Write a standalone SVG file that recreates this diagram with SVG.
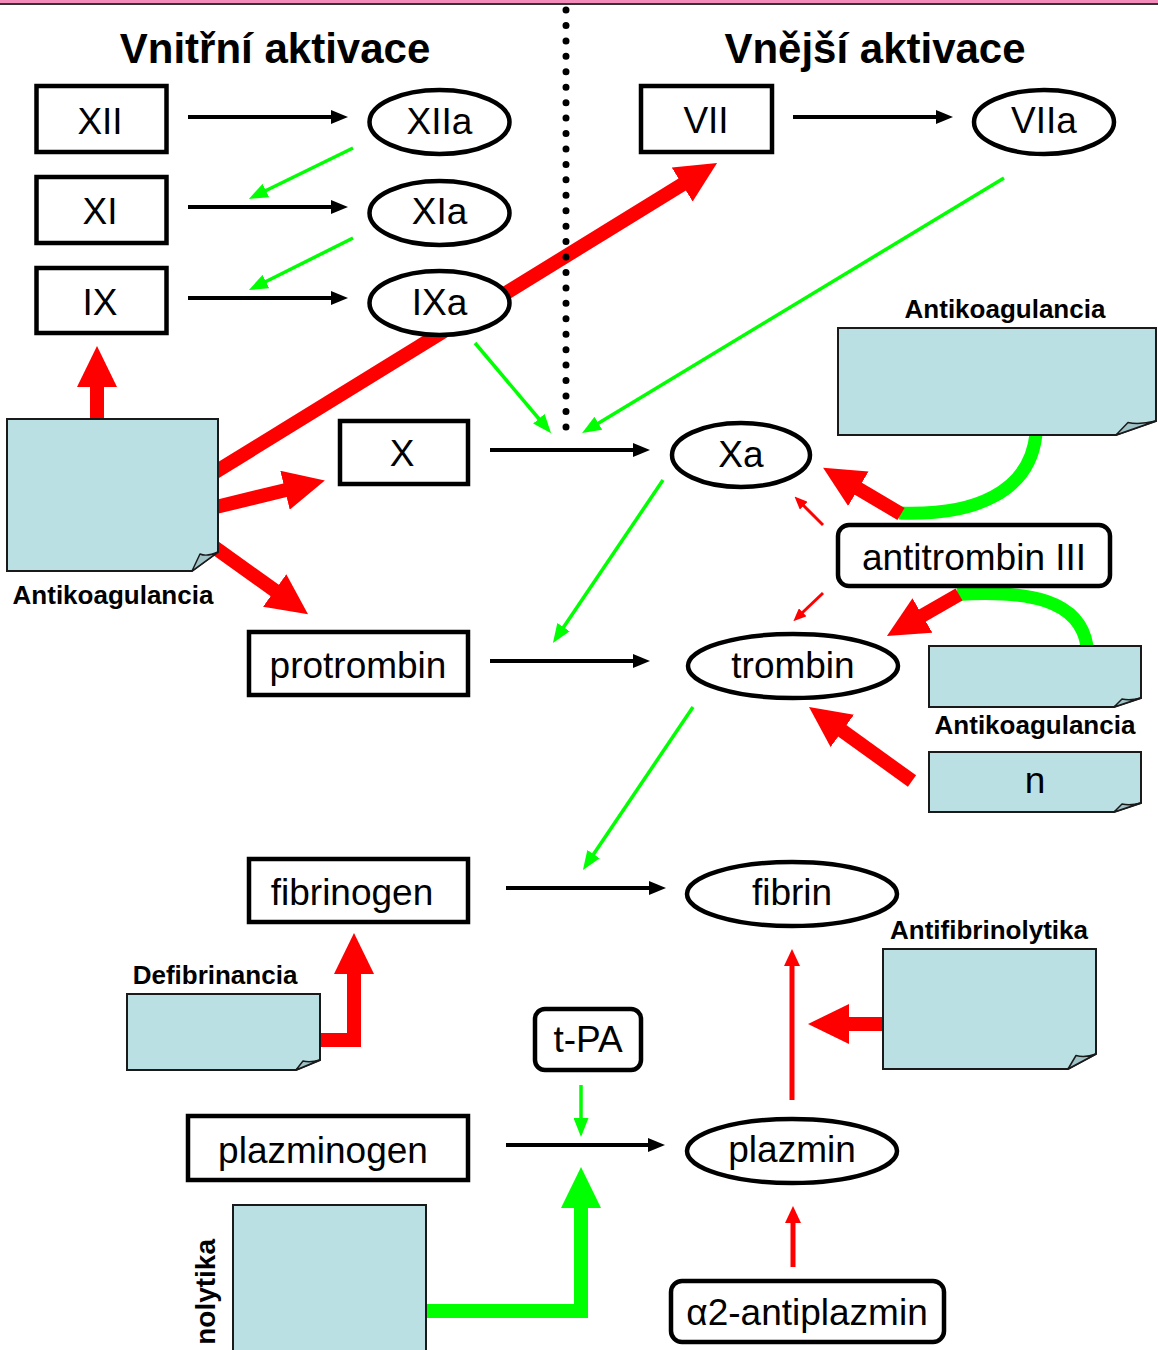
<svg xmlns="http://www.w3.org/2000/svg" width="1158" height="1350" viewBox="0 0 1158 1350">
<style>
.box{fill:#fff;stroke:#000;stroke-width:4.5}
.note{fill:#BAE0E3;stroke:#1a1a1a;stroke-width:2}
.fold{fill:#9FC3C7;stroke:#1a1a1a;stroke-width:1.5;stroke-linejoin:round}
.t{font-family:"Liberation Sans",Arial,sans-serif;font-size:37px;text-anchor:middle;fill:#000}
.lb{font-family:"Liberation Sans",Arial,sans-serif;font-size:26px;font-weight:bold;text-anchor:middle;fill:#000}
.title{font-family:"Liberation Sans",Arial,sans-serif;font-size:42px;font-weight:bold;text-anchor:middle;fill:#000}
.blk{stroke:#000;stroke-width:4;fill:none;marker-end:url(#mb)}
.gr{stroke:#00FF00;stroke-width:3.5;fill:none;marker-end:url(#mg)}
.rdT{stroke:#FF0000;stroke-width:14;fill:none;stroke-linejoin:miter;marker-end:url(#mrT)}
.grT{stroke:#00FF00;stroke-width:14;fill:none;stroke-linejoin:miter;marker-end:url(#mgT)}
.rd{stroke:#FF0000;stroke-width:5;fill:none;marker-end:url(#mr)}
.rds{stroke:#FF0000;stroke-width:3;fill:none;marker-end:url(#mrs)}
.cur{stroke:#00FF00;stroke-width:13;fill:none}
</style>
<defs>
<marker id="mb" markerUnits="userSpaceOnUse" orient="auto" markerWidth="17" markerHeight="15" refX="1" refY="7.5" viewBox="0 0 17 15"><path d="M0,0.5 L17,7.5 L0,14.5 Z" fill="#000"/></marker>
<marker id="mg" markerUnits="userSpaceOnUse" orient="auto" markerWidth="19" markerHeight="15" refX="1" refY="7.5" viewBox="0 0 19 15"><path d="M0,0 L19,7.5 L0,15 Z" fill="#00FF00"/></marker>
<marker id="mrT" markerUnits="userSpaceOnUse" orient="auto" markerWidth="41" markerHeight="40" refX="1" refY="20" viewBox="0 0 41 40"><path d="M0,0 L41,20 L0,40 Z" fill="#FF0000"/></marker>
<marker id="mgT" markerUnits="userSpaceOnUse" orient="auto" markerWidth="41" markerHeight="40" refX="1" refY="20" viewBox="0 0 41 40"><path d="M0,0 L41,20 L0,40 Z" fill="#00FF00"/></marker>
<marker id="mr" markerUnits="userSpaceOnUse" orient="auto" markerWidth="17" markerHeight="16" refX="1" refY="8" viewBox="0 0 17 16"><path d="M0,0 L17,8 L0,16 Z" fill="#FF0000"/></marker>
<marker id="mrs" markerUnits="userSpaceOnUse" orient="auto" markerWidth="13" markerHeight="11" refX="1" refY="5.5" viewBox="0 0 13 11"><path d="M0,0 L13,5.5 L0,11 Z" fill="#FF0000"/></marker>
</defs>

<rect x="0" y="0" width="1158" height="3" fill="#F38CBB"/>
<rect x="0" y="3" width="1158" height="2" fill="#333"/>

<text class="title" x="275" y="63">Vnitřní aktivace</text>
<text class="title" x="875" y="63">Vnější aktivace</text>

<g id="connectors">
  <line class="blk" x1="188" y1="117" x2="332" y2="117"/>
  <line class="blk" x1="188" y1="207" x2="332" y2="207"/>
  <line class="blk" x1="188" y1="298" x2="332" y2="298"/>
  <line class="blk" x1="793" y1="117" x2="937" y2="117"/>
  <line class="blk" x1="490" y1="450" x2="634" y2="450"/>
  <line class="blk" x1="490" y1="661" x2="634" y2="661"/>
  <line class="blk" x1="506" y1="888" x2="650" y2="888"/>
  <line class="blk" x1="506" y1="1145" x2="649" y2="1145"/>
  <line class="gr" x1="353" y1="148" x2="265" y2="191"/>
  <line class="gr" x1="353" y1="238" x2="265" y2="282"/>
  <line class="gr" x1="475" y1="343" x2="539.5" y2="419.5"/>
  <line class="gr" x1="1004" y1="178" x2="597.5" y2="423.7"/>
  <line class="gr" x1="663" y1="480" x2="563" y2="628"/>
  <line class="gr" x1="693" y1="707" x2="593" y2="855"/>
  <line class="gr" x1="581" y1="1085" x2="581" y2="1119"/>
  <line class="rdT" x1="212" y1="474" x2="683" y2="184"/>
  <line class="rdT" x1="97" y1="420" x2="97" y2="386"/>
  <line class="rdT" x1="216" y1="507" x2="286" y2="490"/>
  <line class="rdT" x1="214" y1="547" x2="275.5" y2="591"/>
  <path class="cur" d="M1036,434 C1030,492 975,516 899,513"/>
  <line class="rdT" x1="901" y1="514" x2="857.5" y2="488.2"/>
  <path class="cur" d="M1087,646 C1080,600 1030,590 957,594.5"/>
  <line class="rdT" x1="959" y1="594.5" x2="921.6" y2="616"/>
  <line class="rdT" x1="912" y1="781" x2="841.5" y2="730.3"/>
  <line class="rdT" x1="883" y1="1024" x2="848" y2="1024"/>
  <polyline class="rdT" points="319,1040 354,1040 354,973"/>
  <polyline class="grT" points="426,1311 581,1311 581,1207"/>
  <line class="rd" x1="792" y1="1100" x2="792" y2="965"/>
  <line class="rd" x1="793" y1="1267" x2="793" y2="1222"/>
  <line class="rds" x1="823" y1="525" x2="803" y2="505"/>
  <line class="rds" x1="823" y1="593" x2="802" y2="613"/>
</g>

<line x1="566" y1="10" x2="566" y2="428" stroke="#000" stroke-width="7" stroke-linecap="round" stroke-dasharray="0 15.44"/>

<g id="XII"><rect class="box" x="36.5" y="86" width="130" height="66"/><text class="t" x="100" y="134">XII</text></g>
<g id="XI"><rect class="box" x="36.5" y="177" width="130" height="66"/><text class="t" x="100" y="224">XI</text></g>
<g id="IX"><rect class="box" x="36.5" y="268" width="130" height="65"/><text class="t" x="100" y="315">IX</text></g>
<g id="XIIa"><ellipse class="box" cx="439.5" cy="122" rx="70" ry="32"/><text class="t" x="439.5" y="134">XIIa</text></g>
<g id="XIa"><ellipse class="box" cx="439.5" cy="213" rx="70" ry="32"/><text class="t" x="439.5" y="224">XIa</text></g>
<g id="IXa"><ellipse class="box" cx="439.5" cy="303" rx="70" ry="32"/><text class="t" x="439.5" y="315">IXa</text></g>
<g id="VII"><rect class="box" x="641" y="86" width="131" height="66"/><text class="t" x="706" y="133">VII</text></g>
<g id="VIIa"><ellipse class="box" cx="1044" cy="122" rx="70" ry="32"/><text class="t" x="1044" y="133">VIIa</text></g>
<g id="X"><rect class="box" x="340" y="421" width="128" height="63"/><text class="t" x="402" y="466">X</text></g>
<g id="Xa"><ellipse class="box" cx="741" cy="455" rx="69" ry="32"/><text class="t" x="741" y="467">Xa</text></g>
<g id="antitrombin"><rect class="box" x="838" y="525" width="272" height="61" rx="11"/><text class="t" x="974" y="570">antitrombin III</text></g>
<g id="protrombin"><rect class="box" x="249" y="632" width="219" height="63"/><text class="t" x="358" y="678">protrombin</text></g>
<g id="trombin"><ellipse class="box" cx="793" cy="666" rx="105" ry="32"/><text class="t" x="793" y="678">trombin</text></g>
<g id="fibrinogen"><rect class="box" x="249" y="859" width="219" height="63"/><text class="t" x="352" y="905">fibrinogen</text></g>
<g id="fibrin"><ellipse class="box" cx="792" cy="894" rx="105" ry="32"/><text class="t" x="792" y="905">fibrin</text></g>
<g id="tPA"><rect class="box" x="535" y="1009" width="106" height="61" rx="10"/><text class="t" x="588" y="1052">t-PA</text></g>
<g id="plazminogen"><rect class="box" x="188" y="1116" width="280" height="64"/><text class="t" x="323" y="1163">plazminogen</text></g>
<g id="plazmin"><ellipse class="box" cx="792" cy="1151" rx="105" ry="32"/><text class="t" x="792" y="1162">plazmin</text></g>
<g id="antiplazmin"><rect class="box" x="671" y="1281" width="273" height="61" rx="11"/><text class="t" x="807" y="1325">α2-antiplazmin</text></g>

<g id="note-antikoag-left">
  <path class="note" d="M7,419 H218 V552 L192,571 H7 Z"/>
  <path class="fold" d="M192,571 L200,554 Q207,557 218,552 Z"/>
  <text class="lb" x="113" y="604">Antikoagulancia</text>
</g>
<g id="note-antikoag-top">
  <text class="lb" x="1005" y="318">Antikoagulancia</text>
  <path class="note" d="M838,328 H1156 V421 L1116,435 H838 Z"/>
  <path class="fold" d="M1116,435 L1128,422.5 Q1139,425 1156,421 Z"/>
</g>
<g id="note-antikoag-mid">
  <path class="note" d="M929,646 H1141 V698 L1114,707 H929 Z"/>
  <path class="fold" d="M1114,707 L1122,699 Q1130,701 1141,698 Z"/>
  <text class="lb" x="1035" y="734">Antikoagulancia</text>
</g>
<g id="note-n">
  <path class="note" d="M929,752 H1141 V803 L1114,812 H929 Z"/>
  <path class="fold" d="M1114,812 L1122,804 Q1130,806 1141,803 Z"/>
  <text class="t" x="1035" y="793">n</text>
</g>
<g id="note-defibrinancia">
  <text class="lb" x="215" y="984">Defibrinancia</text>
  <path class="note" d="M127,994 H320 V1060 L296,1070 H127 Z"/>
  <path class="fold" d="M296,1070 L303,1061 Q310,1063 320,1060 Z"/>
</g>
<g id="note-antifibrinolytika">
  <text class="lb" x="989" y="939">Antifibrinolytika</text>
  <path class="note" d="M883,949 H1096 V1054 L1068,1069 H883 Z"/>
  <path class="fold" d="M1068,1069 L1076,1055.5 Q1085,1058 1096,1054 Z"/>
</g>
<g id="note-fibrinolytika">
  <rect class="note" x="233" y="1205" width="193" height="160"/>
  <text class="lb" transform="translate(215,1239) rotate(-90)" style="text-anchor:end;font-size:28px">nolytika</text>
</g>
</svg>
